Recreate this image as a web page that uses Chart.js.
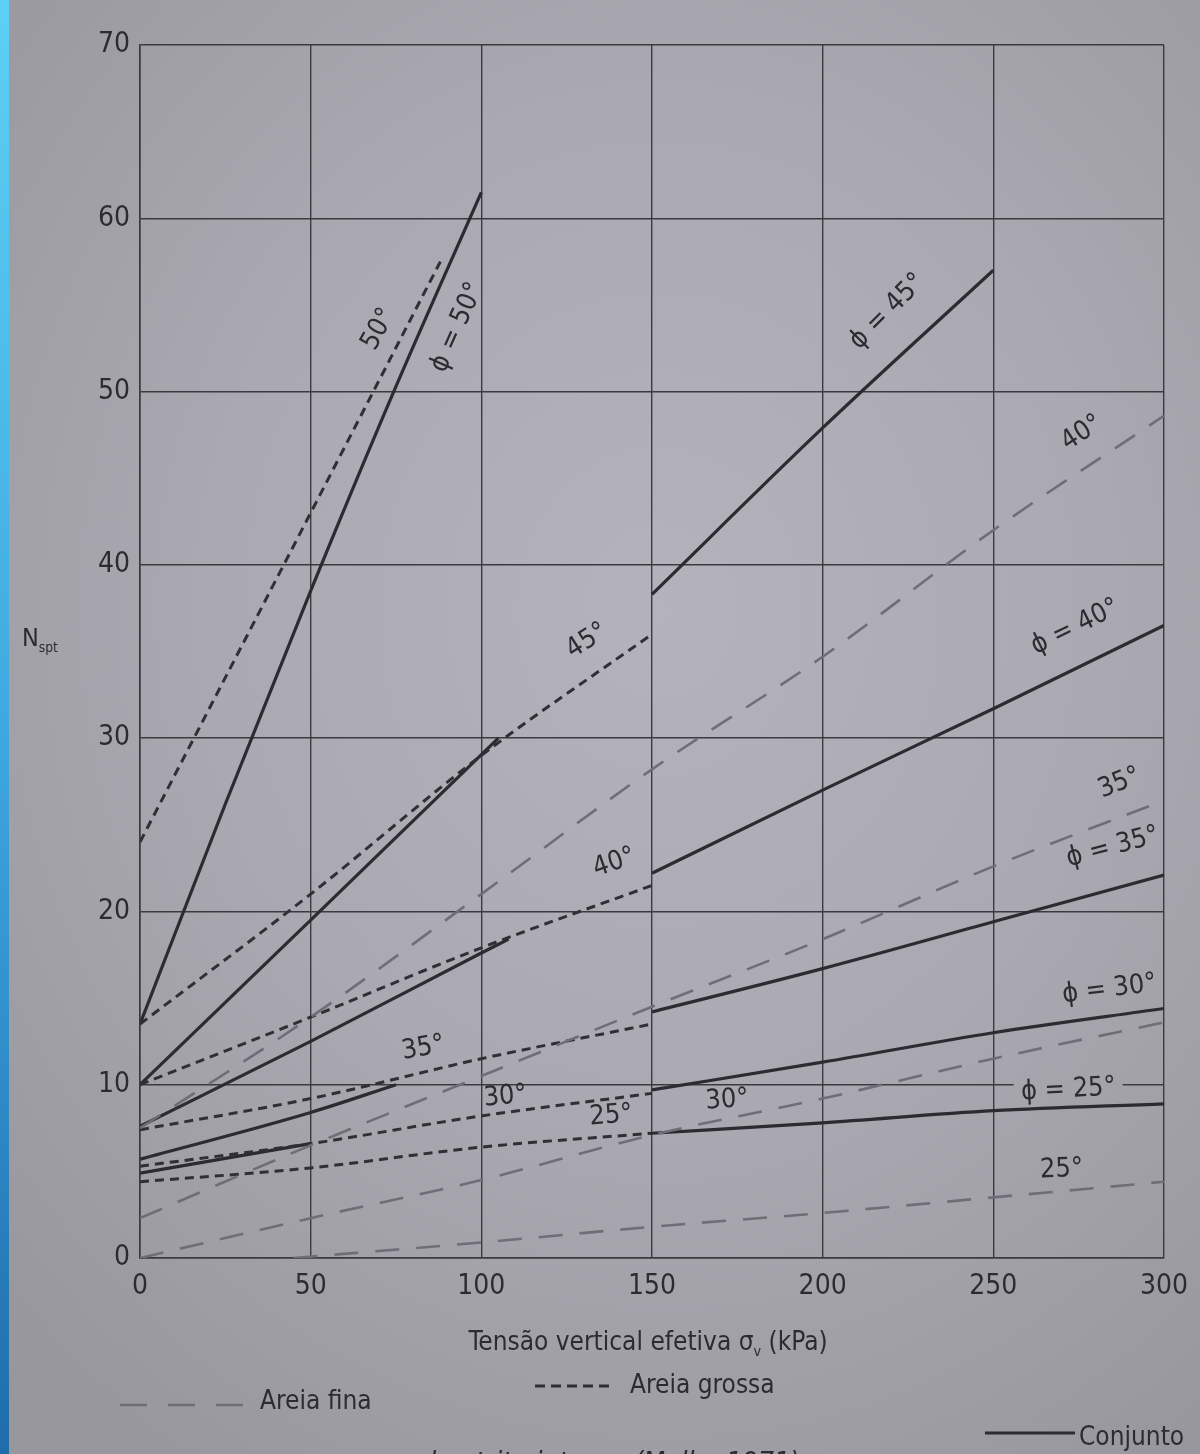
<!DOCTYPE html>
<html lang="pt">
<head>
<meta charset="utf-8">
<title>Nspt e tensão vertical efetiva</title>
<script src="https://cdn.jsdelivr.net/npm/chart.js@4.4.1/dist/chart.umd.min.js"></script>
<style>
  html, body { margin: 0; padding: 0; width: 1200px; height: 1454px; overflow: hidden; }
  body { background: radial-gradient(ellipse 75% 70% at 55% 42%, #b4b3bb 0%, #aaa9b1 50%, #98979e 100%); position: relative; }
  #borda { position: absolute; left: 0; top: 0; width: 9px; height: 1454px;
           background: linear-gradient(#5dd0f5, #3ea9df 50%, #1f6cab); }
  canvas { position: absolute; left: 0; top: 0; }
</style>
</head>
<body>
<div id="borda"></div>
<canvas id="grafico" width="1200" height="1454"></canvas>
<script>
// Tensão vertical efetiva (kPa) e Nspt para cada ângulo de atrito

// Areia fina
const tensaoFina = [0, 50, 100, 150, 200, 250, 300];
const fina40 = [7.5, 13.9, 21.0, 28.2, 34.7, 42.0, 48.6];
const fina35 = [2.3, 6.5, 10.5, 14.5, 18.4, 22.6, 26.4];
const fina30 = [0.0, 2.3, 4.5, 7.1, 9.2, 11.5, 13.6];
const tensaoFina25 = [45, 100, 150, 200, 250, 300];
const fina25 = [0.0, 0.9, 1.8, 2.6, 3.5, 4.4];

// Areia grossa
const tensaoGrossa50 = [0, 50, 88];
const grossa50 = [24.0, 43.0, 57.5];
const tensaoGrossa = [0, 50, 100, 150];
const grossa45 = [13.5, 21.0, 29.0, 36.0];
const grossa40 = [10.0, 13.9, 17.9, 21.5];
const grossa35 = [7.4, 9.2, 11.5, 13.5];
const grossa30 = [5.3, 6.6, 8.2, 9.5];
const grossa25 = [4.4, 5.2, 6.4, 7.2];

// Conjunto (trecho inicial e trecho a partir de 150 kPa)
const tensaoConj50 = [0, 25, 50, 75, 100];
const conj50 = [13.5, 26.2, 38.5, 50.3, 61.5];
const tensaoConj45a = [0, 50, 105];
const conj45a = [10.0, 19.5, 30.0];
const tensaoConj45b = [150, 200, 250];
const conj45b = [38.3, 47.9, 57.0];
const tensaoConj40a = [0, 50, 100, 108];
const conj40a = [7.6, 12.5, 17.6, 18.4];
const tensaoConj35a = [0, 50, 75];
const conj35a = [5.7, 8.4, 10.0];
const tensaoConj30a = [0, 50];
const conj30a = [4.9, 6.6];
const tensaoConjB = [150, 200, 250, 300];
const conj40b = [22.2, 27.0, 31.7, 36.5];
const conj35b = [14.2, 16.7, 19.4, 22.1];
const conj30b = [9.7, 11.3, 13.0, 14.4];
const conj25b = [7.2, 7.8, 8.5, 8.9];

// Eixos
const xMin = 0, xMax = 300, xPasso = 50;
const yMin = 0, yMax = 70, yPasso = 10;

// Rótulos das curvas: texto, tensão, Nspt, inclinação do texto (graus)
const rotulos = [
  ['50°', 70, 53.6, -61],
  ['ϕ = 50°', 93, 53.7, -66],
  ['ϕ = 45°', 219, 54.6, -45],
  ['45°', 131, 35.6, -32],
  ['40°', 276, 47.6, -33],
  ['ϕ = 40°', 274, 36.4, -26],
  ['40°', 139, 22.8, -19],
  ['35°', 287, 27.4, -22],
  ['ϕ = 35°', 285, 23.7, -15],
  ['35°', 83, 12.1, -10],
  ['30°', 107, 9.3, -5],
  ['25°', 138, 8.2, -4],
  ['30°', 172, 9.1, -4],
  ['ϕ = 30°', 284, 15.5, -7],
  ['ϕ = 25°', 272, 9.7, -3],
  ['25°', 270, 5.1, -2]
];
const rotuloComFundo = 'ϕ = 25°';

const FONTE = "'Liberation Sans Narrow', 'DejaVu Sans Condensed', 'Roboto Condensed', 'Liberation Sans', sans-serif";
const TINTA = '#2c2b31';
const GRADE = '#3b3a41';
const CINZA = '#6f6e76';

const pontos = (xs, ys) => xs.map((v, i) => ({ x: v, y: ys[i] }));

const estiloFina = { borderColor: CINZA, borderWidth: 2.6, borderDash: [24, 17] };
const estiloGrossa = { borderColor: '#302f35', borderWidth: 3, borderDash: [9, 6] };
const estiloConj = { borderColor: TINTA, borderWidth: 3.2, borderDash: [] };

const serie = (rotulo, xs, ys, estilo) => Object.assign({
  label: rotulo, data: pontos(xs, ys), pointRadius: 0, fill: false,
  cubicInterpolationMode: 'monotone', borderCapStyle: 'butt'
}, estilo);

const conjuntos = [
  serie('Areia fina 40°', tensaoFina, fina40, estiloFina),
  serie('Areia fina 35°', tensaoFina, fina35, estiloFina),
  serie('Areia fina 30°', tensaoFina, fina30, estiloFina),
  serie('Areia fina 25°', tensaoFina25, fina25, estiloFina),
  serie('Areia grossa 50°', tensaoGrossa50, grossa50, estiloGrossa),
  serie('Areia grossa 45°', tensaoGrossa, grossa45, estiloGrossa),
  serie('Areia grossa 40°', tensaoGrossa, grossa40, estiloGrossa),
  serie('Areia grossa 35°', tensaoGrossa, grossa35, estiloGrossa),
  serie('Areia grossa 30°', tensaoGrossa, grossa30, estiloGrossa),
  serie('Areia grossa 25°', tensaoGrossa, grossa25, estiloGrossa),
  serie('Conjunto ϕ = 50°', tensaoConj50, conj50, estiloConj),
  serie('Conjunto ϕ = 45° (a)', tensaoConj45a, conj45a, estiloConj),
  serie('Conjunto ϕ = 45° (b)', tensaoConj45b, conj45b, estiloConj),
  serie('Conjunto ϕ = 40° (a)', tensaoConj40a, conj40a, estiloConj),
  serie('Conjunto ϕ = 40° (b)', tensaoConjB, conj40b, estiloConj),
  serie('Conjunto ϕ = 35° (a)', tensaoConj35a, conj35a, estiloConj),
  serie('Conjunto ϕ = 35° (b)', tensaoConjB, conj35b, estiloConj),
  serie('Conjunto ϕ = 30° (a)', tensaoConj30a, conj30a, estiloConj),
  serie('Conjunto ϕ = 30° (b)', tensaoConjB, conj30b, estiloConj),
  serie('Conjunto ϕ = 25°', tensaoConjB, conj25b, estiloConj)
];

// Texto com subscrito: partes [texto, subscrito?]
function textoComIndice(ctx, partes, x0, base, tam, alinhar) {
  const medir = p => { ctx.font = `${p[1] ? tam * 0.55 : tam}px ${FONTE}`; return ctx.measureText(p[0]).width; };
  const total = partes.reduce((s, p) => s + medir(p), 0);
  let x = alinhar === 'center' ? x0 - total / 2 : x0;
  ctx.textAlign = 'left';
  ctx.textBaseline = 'alphabetic';
  partes.forEach(p => {
    const w = medir(p);
    ctx.fillText(p[0], x, p[1] ? base + tam * 0.22 : base);
    x += w;
  });
}

const anotacoes = {
  id: 'anotacoes',
  afterDatasetsDraw(chart) {
    const { ctx, scales: { x, y } } = chart;
    ctx.save();
    ctx.font = `27px ${FONTE}`;
    ctx.textAlign = 'center';
    ctx.textBaseline = 'middle';
    rotulos.forEach(([t, vx, vy, ang]) => {
      const px = x.getPixelForValue(vx), py = y.getPixelForValue(vy);
      ctx.save();
      ctx.translate(px, py);
      ctx.rotate(ang * Math.PI / 180);
      if (t === rotuloComFundo) {
        const w = ctx.measureText(t).width;
        ctx.globalCompositeOperation = 'destination-out';
        ctx.fillRect(-w / 2 - 7, -12, w + 14, 22);
        ctx.globalCompositeOperation = 'source-over';
      }
      ctx.fillStyle = TINTA;
      ctx.fillText(t, 0, 0);
      ctx.restore();
    });
    ctx.restore();
  },
  afterDraw(chart) {
    const { ctx } = chart;
    ctx.save();
    ctx.fillStyle = TINTA;

    // Título do eixo y
    textoComIndice(ctx, [['N', false], ['spt', true]], 22, 646, 25, 'left');

    // Título do eixo x
    textoComIndice(ctx, [['Tensão vertical efetiva σ', false], ['v', true], [' (kPa)', false]], 648, 1350, 26, 'center');

    // Legenda
    ctx.lineCap = 'butt';
    ctx.strokeStyle = CINZA;
    ctx.lineWidth = 2.6;
    ctx.setLineDash([27, 21]);
    ctx.beginPath(); ctx.moveTo(120, 1405); ctx.lineTo(245, 1405); ctx.stroke();

    ctx.strokeStyle = '#302f35';
    ctx.lineWidth = 3;
    ctx.setLineDash([10, 6]);
    ctx.beginPath(); ctx.moveTo(535, 1386); ctx.lineTo(612, 1386); ctx.stroke();

    ctx.strokeStyle = TINTA;
    ctx.lineWidth = 3;
    ctx.setLineDash([]);
    ctx.beginPath(); ctx.moveTo(985, 1433); ctx.lineTo(1075, 1433); ctx.stroke();

    ctx.font = `26px ${FONTE}`;
    ctx.textAlign = 'left';
    ctx.textBaseline = 'middle';
    ctx.fillText('Areia fina', 260, 1402);
    ctx.fillText('Areia grossa', 630, 1386);
    ctx.fillText('Conjunto', 1079, 1438);

    // Legenda da figura (parcialmente fora da página)
    ctx.font = `italic 28px ${FONTE}`;
    ctx.textBaseline = 'alphabetic';
    ctx.fillText('de atrito interno (Mello, 1971)', 420, 1472);
    ctx.restore();
  }
};

new Chart(document.getElementById('grafico'), {
  type: 'line',
  data: { datasets: conjuntos },
  options: {
    responsive: false,
    animation: false,
    events: [],
    layout: { padding: { left: 0, right: 25, top: 45, bottom: 150 } },
    plugins: { legend: { display: false }, tooltip: { enabled: false } },
    scales: {
      x: {
        type: 'linear', min: xMin, max: xMax,
        afterFit: s => { s.height = 46; },
        ticks: { stepSize: xPasso, color: TINTA, padding: 12, font: { family: FONTE, size: 28 } },
        grid: { color: GRADE, lineWidth: 1.4, drawTicks: false },
        border: { color: GRADE, width: 1.6 }
      },
      y: {
        type: 'linear', min: yMin, max: yMax,
        afterFit: s => { s.width = 140; },
        ticks: { stepSize: yPasso, color: TINTA, padding: 10, font: { family: FONTE, size: 28 } },
        grid: { color: GRADE, lineWidth: 1.4, drawTicks: false },
        border: { color: GRADE, width: 1.6 }
      }
    }
  },
  plugins: [anotacoes]
});
</script>
</body>
</html>
